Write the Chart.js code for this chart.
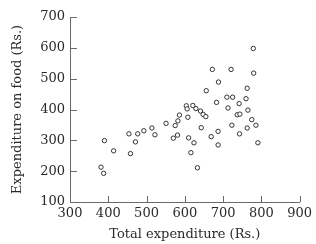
<!DOCTYPE html>
<html>
<head>
<meta charset="utf-8">
<script src="https://cdn.jsdelivr.net/npm/chart.js@4/dist/chart.umd.min.js"></script>
<style>
	html, body { margin: 0; padding: 0; background: #fff; }
	#wrap { width: 316px; height: 244px; }
</style>
</head>
<body>
<div id="wrap"><canvas id="cv" width="316" height="244"></canvas></div>
<script>
// total expenditure (Rs.)
const totalExp = [381, 388, 390, 414, 454, 458, 471, 477, 493, 514, 522, 551, 570, 575, 581, 582, 586,
	604, 606, 608, 610, 621, 629, 641, 648, 655, 616, 624, 633, 643, 656, 669, 672, 683, 688, 687, 687,
	710, 713, 721, 723, 725, 737, 744, 742, 743, 760, 763, 763, 765, 775, 779, 780, 786, 791]
// expenditure on food (Rs.)
const foodExp = [213, 193, 299, 266, 321, 257, 295, 321, 331, 340, 318, 355, 307, 348, 317, 363, 382,
	412, 402, 375, 308, 413, 403, 395, 384, 377, 260, 292, 211, 341, 461, 312, 530, 423, 489, 329, 285,
	440, 405, 530, 349, 440, 383, 385, 419, 321, 435, 469, 340, 398, 367, 598, 518, 349, 292]
const xTicks = [300, 400, 500, 600, 700, 800, 900]
const yTicks = [100, 200, 300, 400, 500, 600, 700]
const xTitle = 'Total expenditure (Rs.)'
const yTitle = 'Expenditure on food (Rs.)'

const points = totalExp.map((x, i) => ({ x: x, y: foodExp[i] }))
const serif = '"DejaVu Serif", "Liberation Serif", serif'
const axisColor = '#6a6a6a'
const textColor = '#2a2a2a'

// ticks pointing into the plot, plus the two axis titles
const innerTicks = {
	id: 'innerTicks',
	afterDraw(chart) {
		const ctx = chart.ctx
		const xs = chart.scales.x
		const ys = chart.scales.y
		const area = chart.chartArea
		ctx.save()
		ctx.strokeStyle = axisColor
		ctx.lineWidth = 1
		ctx.beginPath()
		xTicks.forEach((v) => {
			const px = Math.round(xs.getPixelForValue(v)) + 0.5
			ctx.moveTo(px, ys.bottom)
			ctx.lineTo(px, ys.bottom - 6)
		})
		yTicks.forEach((v) => {
			const py = Math.round(ys.getPixelForValue(v)) + 0.5
			ctx.moveTo(xs.left, py)
			ctx.lineTo(xs.left + 7, py)
		})
		ctx.stroke()

		ctx.fillStyle = textColor
		ctx.font = '13px ' + serif
		ctx.textAlign = 'center'
		ctx.textBaseline = 'middle'
		ctx.fillText(xTitle, (area.left + area.right) / 2, 235)
		ctx.translate(18, (area.top + area.bottom) / 2)
		ctx.rotate(-Math.PI / 2)
		ctx.fillText(yTitle, 0, 0)
		ctx.restore()
	}
}

new Chart(document.getElementById('cv'), {
	type: 'scatter',
	data: {
		datasets: [{
			data: points,
			pointStyle: 'circle',
			pointRadius: 2.2,
			pointBorderWidth: 1,
			pointBackgroundColor: '#fff',
			pointBorderColor: '#333'
		}]
	},
	options: {
		responsive: false,
		animation: false,
		devicePixelRatio: 1,
		layout: { padding: { top: 17, right: 14, left: 0, bottom: 0 } },
		plugins: { legend: { display: false }, tooltip: { enabled: false } },
		scales: {
			x: {
				type: 'linear',
				min: 300,
				max: 900,
				afterFit: (s) => { s.height = 42 },
				afterBuildTicks: (s) => { s.ticks = xTicks.map((v) => ({ value: v })) },
				grid: { display: false, drawTicks: false },
				border: { display: true, color: axisColor, width: 1 },
				ticks: { padding: 4, color: textColor, font: { family: serif, size: 13 } }
			},
			y: {
				type: 'linear',
				min: 100,
				max: 700,
				afterFit: (s) => { s.width = 70 },
				afterBuildTicks: (s) => { s.ticks = yTicks.map((v) => ({ value: v })) },
				grid: { display: false, drawTicks: false },
				border: { display: true, color: axisColor, width: 1 },
				ticks: { padding: 5, color: textColor, font: { family: serif, size: 13 } }
			}
		}
	},
	plugins: [innerTicks]
})
</script>
</body>
</html>
